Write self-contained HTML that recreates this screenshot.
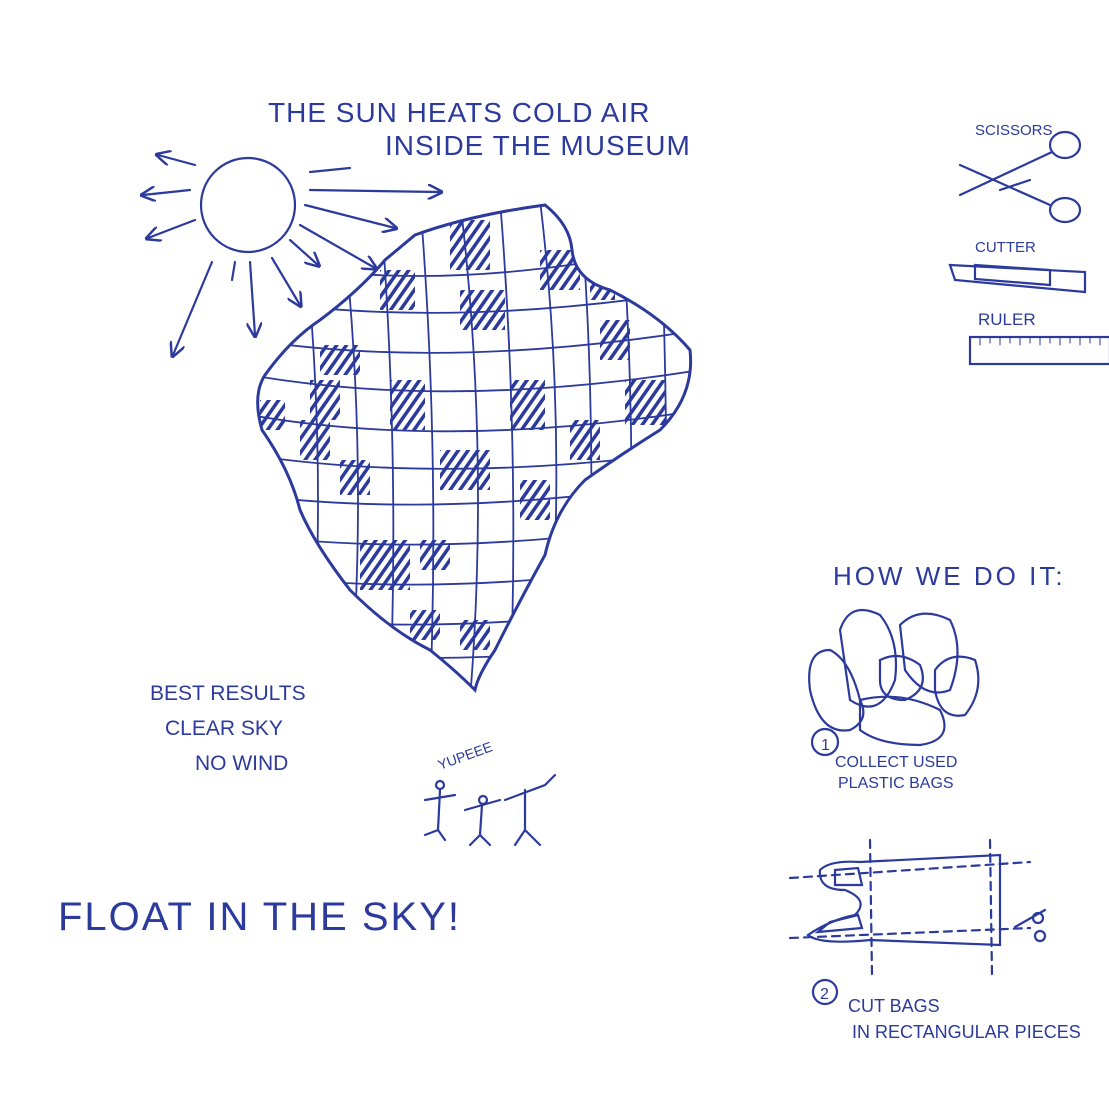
<!DOCTYPE html>
<html><head><meta charset="utf-8"><style>
html,body{margin:0;padding:0;background:#fff;}
svg{display:block}
text{font-family:"Liberation Sans",sans-serif;fill:#2b3a9c;}
</style></head><body>
<svg width="1109" height="1109" viewBox="0 0 1109 1109" xmlns="http://www.w3.org/2000/svg">
<defs>
<clipPath id="bal"><path d="M415,235 Q470,215 545,205 Q570,225 572,250 Q575,280 610,290 Q660,315 690,350 Q695,395 660,430 Q620,455 585,480 Q555,510 545,555 Q520,600 495,650 Q478,675 475,690 Q455,670 430,650 Q390,630 350,590 Q315,545 300,510 Q290,470 262,430 Q252,395 265,375 Q290,340 320,320 Q360,290 385,260 Z"/></clipPath>
<pattern id="hat" width="8" height="8" patternUnits="userSpaceOnUse" patternTransform="rotate(35)"><rect width="8" height="8" fill="#fff"/><rect width="3.5" height="8" fill="#2b3a9c"/></pattern>
<marker id="ar" viewBox="0 0 10 10" refX="8" refY="5" markerWidth="7" markerHeight="7" orient="auto"><path d="M0,0 L10,5 L0,10" fill="none" stroke="#2b3a9c" stroke-width="1.6"/></marker>
</defs>
<g stroke="#2b3a9c" fill="none" stroke-width="2.2" stroke-linecap="round">
<!-- sun -->
<circle cx="248" cy="205" r="47"/>
<line x1="195" y1="165" x2="158" y2="155" marker-end="url(#ar)"/><line x1="190" y1="190" x2="143" y2="195" marker-end="url(#ar)"/><line x1="195" y1="220" x2="148" y2="238" marker-end="url(#ar)"/>
<line x1="212" y1="262" x2="173" y2="355" marker-end="url(#ar)"/><line x1="235" y1="262" x2="232" y2="280"/><line x1="250" y1="262" x2="255" y2="335" marker-end="url(#ar)"/>
<line x1="272" y1="258" x2="300" y2="305" marker-end="url(#ar)"/><line x1="290" y1="240" x2="318" y2="265" marker-end="url(#ar)"/><line x1="300" y1="225" x2="375" y2="268" marker-end="url(#ar)"/>
<line x1="305" y1="205" x2="395" y2="228" marker-end="url(#ar)"/><line x1="310" y1="190" x2="440" y2="192" marker-end="url(#ar)"/><line x1="310" y1="172" x2="350" y2="168"/>
<!-- balloon -->
<g clip-path="url(#bal)">
<rect x="250" y="200" width="450" height="500" fill="#fff"/>
<g fill="url(#hat)" stroke="none">
<rect x="450" y="220" width="40" height="50"/><rect x="380" y="270" width="35" height="40"/><rect x="460" y="290" width="45" height="40"/>
<rect x="320" y="345" width="40" height="30"/><rect x="390" y="380" width="35" height="50"/><rect x="310" y="380" width="30" height="40"/>
<rect x="540" y="250" width="40" height="40"/><rect x="600" y="320" width="30" height="40"/><rect x="625" y="380" width="40" height="45"/>
<rect x="440" y="450" width="50" height="40"/><rect x="520" y="480" width="30" height="40"/><rect x="360" y="540" width="50" height="50"/>
<rect x="300" y="420" width="30" height="40"/><rect x="510" y="380" width="35" height="50"/><rect x="410" y="610" width="30" height="30"/>
<rect x="340" y="460" width="30" height="35"/><rect x="570" y="420" width="30" height="40"/><rect x="460" y="620" width="30" height="30"/>
<rect x="590" y="270" width="25" height="30"/><rect x="260" y="400" width="25" height="30"/><rect x="420" y="540" width="30" height="30"/>
</g>
<g stroke-width="1.8">
<path d="M250,260 Q450,300 700,240"/><path d="M250,300 Q450,330 700,290"/><path d="M250,340 Q450,370 700,330"/>
<path d="M250,375 Q450,410 700,370"/><path d="M250,415 Q450,450 700,410"/><path d="M250,455 Q450,485 700,450"/>
<path d="M250,495 Q450,520 700,480"/><path d="M250,535 Q450,560 700,520"/><path d="M250,575 Q450,600 700,560"/>
<path d="M250,615 Q450,640 700,600"/><path d="M250,650 Q450,670 700,640"/>
<path d="M300,200 Q330,450 310,700"/><path d="M340,200 Q370,450 350,700"/><path d="M380,200 Q400,450 390,700"/>
<path d="M420,200 Q440,450 430,700"/><path d="M460,200 Q490,450 470,700"/><path d="M500,200 Q520,450 510,700"/>
<path d="M540,200 Q570,450 545,700"/><path d="M580,200 Q600,450 585,700"/><path d="M620,200 Q640,450 625,700"/><path d="M660,200 Q670,450 665,700"/>
</g>
</g>
<path stroke-width="3" d="M415,235 Q470,215 545,205 Q570,225 572,250 Q575,280 610,290 Q660,315 690,350 Q695,395 660,430 Q620,455 585,480 Q555,510 545,555 Q520,600 495,650 Q478,675 475,690 Q455,670 430,650 Q390,630 350,590 Q315,545 300,510 Q290,470 262,430 Q252,395 265,375 Q290,340 320,320 Q360,290 385,260 Z"/>
<!-- people -->
<path d="M440,790 L438,830 L425,835 M438,830 L445,840 M425,800 L455,795"/><circle cx="440" cy="785" r="4"/>
<path d="M482,805 L480,835 L470,845 M480,835 L490,845 M465,810 L500,800"/><circle cx="483" cy="800" r="4"/>
<path d="M525,790 L525,830 L515,845 M525,830 L540,845 M505,800 L545,785 L555,775"/>
<!-- scissors -->
<ellipse cx="1065" cy="145" rx="15" ry="13"/><ellipse cx="1065" cy="210" rx="15" ry="12"/>
<path d="M1052,152 L960,195 M1050,205 L960,165 M1030,180 L1000,190"/>
<!-- cutter -->
<path d="M950,265 L1085,272 L1085,292 L955,280 Z"/><path d="M975,265 L1050,270 L1050,285 L975,279 Z"/>
<!-- ruler -->
<rect x="970" y="337" width="140" height="27"/>
<path stroke-width="1" d="M980,337v8M990,337v6M1000,337v8M1010,337v6M1020,337v8M1030,337v6M1040,337v8M1050,337v6M1060,337v8M1070,337v6M1080,337v8M1090,337v6M1100,337v8"/>
<!-- bags -->
<path d="M810,690 Q805,650 830,650 Q850,660 860,700 Q870,720 850,730 Q820,735 810,690Z"/>
<path d="M840,630 Q850,600 880,615 Q900,640 895,680 Q880,720 850,700 Z"/>
<path d="M900,625 Q920,605 950,620 Q965,650 950,690 Q925,700 905,670 Z"/>
<path d="M935,670 Q950,650 975,660 Q985,690 965,715 Q940,720 935,690Z"/>
<path d="M860,700 Q900,690 940,710 Q955,740 920,745 Q880,745 860,730Z"/>
<path d="M880,660 Q900,650 920,665 Q930,690 905,700 Q880,700 880,680Z"/>
<circle cx="825" cy="742" r="13"/>
<!-- cut bags -->
<path d="M820,870 Q830,860 860,862 L1000,855 L1000,945 L870,940 Q820,945 808,935 Q830,920 855,915 Q870,900 845,890 Q818,890 820,870Z"/>
<path d="M835,870 L858,868 L862,885 L835,885Z"/><path d="M818,932 L862,928 L858,915 L830,922Z"/>
<path stroke-dasharray="8,6" d="M790,878 L1030,862 M790,938 L1030,928 M870,840 L872,975 M990,840 L992,975"/>
<circle cx="1038" cy="918" r="5"/><circle cx="1040" cy="936" r="5"/><path d="M1015,927 L1045,910"/>
<circle cx="825" cy="992" r="12"/>
</g>
<g font-size="28" letter-spacing="1">
<text x="268" y="122">THE SUN HEATS  COLD AIR</text>
<text x="385" y="155">INSIDE THE MUSEUM</text>
</g>
<text x="150" y="700" font-size="21">BEST RESULTS</text>
<text x="165" y="735" font-size="21">CLEAR SKY</text>
<text x="195" y="770" font-size="21">NO WIND</text>
<text x="440" y="770" font-size="14" transform="rotate(-20 440 770)">YUPEEE</text>
<text x="58" y="930" font-size="40" letter-spacing="2">FLOAT IN THE SKY!</text>
<text x="975" y="135" font-size="15">SCISSORS</text>
<text x="975" y="252" font-size="15">CUTTER</text>
<text x="978" y="325" font-size="17">RULER</text>
<text x="833" y="585" font-size="26" letter-spacing="3">HOW WE DO IT:</text>
<text x="835" y="767" font-size="16">COLLECT USED</text>
<text x="838" y="788" font-size="16">PLASTIC BAGS</text>
<text x="821" y="750" font-size="16">1</text>
<text x="820" y="999" font-size="16">2</text>
<text x="848" y="1012" font-size="18">CUT BAGS</text>
<text x="852" y="1038" font-size="18">IN RECTANGULAR PIECES</text>
</svg>
</body></html>
